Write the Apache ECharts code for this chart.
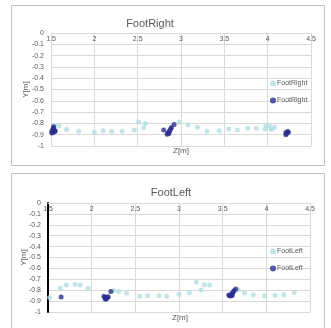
<!DOCTYPE html>
<html>
<head>
<meta charset="utf-8">
<script src="https://cdn.jsdelivr.net/npm/echarts@6/dist/echarts.min.js"></script>
<style>
  html, body { margin: 0; padding: 0; background: #fff; }
  #chart { width: 331px; height: 328px; }
</style>
</head>
<body>
<div id="chart"></div>
<script>
// Z[m], Y[m] pairs
const rightLight = [
  [1.54, -0.817], [1.59, -0.823], [1.68, -0.853], [1.82, -0.870], [2.00, -0.879],
  [2.10, -0.864], [2.20, -0.870], [2.32, -0.870], [2.46, -0.858], [2.51, -0.788],
  [2.57, -0.838], [2.59, -0.800], [2.98, -0.788], [3.08, -0.814], [3.19, -0.835],
  [3.30, -0.870], [3.44, -0.864], [3.55, -0.850], [3.65, -0.858], [3.77, -0.844],
  [3.87, -0.844], [3.97, -0.850], [3.98, -0.820], [4.02, -0.823], [4.04, -0.853],
  [4.08, -0.835], [4.05, -0.845]
];
const rightDark = [
  [1.53, -0.840], [1.52, -0.855], [1.51, -0.870], [1.51, -0.885], [1.54, -0.862],
  [1.54, -0.874], [1.53, -0.830], [1.52, -0.880], [1.55, -0.868],
  [2.80, -0.858], [2.84, -0.897], [2.85, -0.885], [2.86, -0.876], [2.87, -0.864],
  [2.88, -0.850], [2.89, -0.836], [2.92, -0.810], [2.86, -0.890],
  [4.21, -0.880], [4.22, -0.890], [4.23, -0.872], [4.21, -0.900], [4.24, -0.878]
];
const leftLight = [
  [1.52, -0.868], [1.64, -0.783], [1.71, -0.752], [1.81, -0.746], [1.87, -0.752],
  [1.96, -0.783], [2.25, -0.804], [2.31, -0.813], [2.40, -0.829], [2.55, -0.856],
  [2.64, -0.850], [2.77, -0.850], [2.86, -0.856], [3.00, -0.838], [3.12, -0.823],
  [3.20, -0.728], [3.25, -0.798], [3.29, -0.749], [3.35, -0.752], [3.68, -0.798],
  [3.75, -0.826], [3.85, -0.841], [3.98, -0.850], [4.10, -0.847], [4.20, -0.841],
  [4.32, -0.823]
];
const leftDark = [
  [1.65, -0.862],
  [2.14, -0.856], [2.15, -0.868], [2.16, -0.878], [2.18, -0.872], [2.16, -0.884],
  [2.19, -0.859], [2.17, -0.865], [2.22, -0.813],
  [3.57, -0.844], [3.58, -0.850], [3.60, -0.841], [3.61, -0.829], [3.62, -0.817],
  [3.63, -0.804], [3.65, -0.789], [3.59, -0.853], [3.61, -0.848]
];
const zTicks = { min: 1.5, max: 4.5, interval: 0.5 };
const yTicks = { min: -1, max: 0, interval: 0.1 };

const lightColor = "#b4dfe4";
const darkColor = "#2b2e8c";
const textColor = "#595959";
const gridColor = "#d9d9d9";
const font = "Liberation Sans";

function xAxisFor(gridIndex) {
  return {
    gridIndex, type: "value", position: "top",
    min: zTicks.min, max: zTicks.max, interval: zTicks.interval,
    axisLine: { show: true, onZero: false, lineStyle: { color: gridColor } },
    axisTick: { show: false },
    axisLabel: { inside: true, color: textColor, fontSize: 7, fontFamily: font, margin: 3 },
    splitLine: { show: true, lineStyle: { color: gridColor } },
  };
}

function yAxisFor(gridIndex, axisColor, axisWidth, gap) {
  return {
    gridIndex, type: "value",
    min: yTicks.min, max: yTicks.max, interval: yTicks.interval,
    name: "Y[m]", nameLocation: "middle", nameGap: gap, nameRotate: 90,
    nameMoveOverlap: false,
    nameTextStyle: { color: textColor, fontSize: 8, fontFamily: font },
    axisLine: { show: true, onZero: false, lineStyle: { color: axisColor, width: axisWidth } },
    axisTick: { show: false },
    axisLabel: { color: textColor, fontSize: 7, fontFamily: font, margin: 7 },
    splitLine: { show: true, lineStyle: { color: gridColor } },
  };
}

function scatter(name, data, color, idx) {
  return {
    name, type: "scatter", data, xAxisIndex: idx, yAxisIndex: idx,
    symbol: "circle", symbolSize: 5, itemStyle: { color },
  };
}

const legendBase = {
  orient: "vertical", icon: "circle", itemWidth: 6, itemHeight: 6, itemGap: 10,
  textStyle: { color: textColor, fontSize: 7, fontFamily: font, padding: [0, 0, 0, -4] },
  formatter: (n) => n.replace(/ .*$/, ""),
};

const chart = echarts.init(document.getElementById("chart"));
chart.setOption({
  animation: false,
  backgroundColor: "#fff",
  title: [
    { text: "FootRight", left: 145, top: 13, textAlign: "center",
      textStyle: { color: textColor, fontSize: 11, fontWeight: "normal", fontFamily: font } },
    { text: "FootLeft", left: 166, top: 182, textAlign: "center",
      textStyle: { color: textColor, fontSize: 11, fontWeight: "normal", fontFamily: font } },
  ],
  graphic: [
    { type: "rect", shape: { x: 11.5, y: 5.5, width: 313, height: 160 },
      style: { fill: "none", stroke: "#bfbfbf", lineWidth: 1 }, z: -1 },
    { type: "rect", shape: { x: 11.5, y: 173.5, width: 313, height: 170 },
      style: { fill: "none", stroke: "#bfbfbf", lineWidth: 1 }, z: -1 },
    { type: "text", left: 173, top: 147,
      style: { text: "Z[m]", fill: textColor, fontSize: 8, fontFamily: font } },
    { type: "text", left: 172, top: 314,
      style: { text: "Z[m]", fill: textColor, fontSize: 8, fontFamily: font } },
  ],
  grid: [
    { left: 51, top: 33, width: 260, height: 113 },
    { left: 48, top: 203, width: 262, height: 109 },
  ],
  xAxis: [xAxisFor(0), xAxisFor(1)],
  yAxis: [yAxisFor(0, gridColor, 1, 21), yAxisFor(1, "#000", 2, 20)],
  legend: [
    Object.assign({}, legendBase, { left: 265, top: 75, data: ["FootRight a", "FootRight b"] }),
    Object.assign({}, legendBase, { left: 265, top: 243, data: ["FootLeft a", "FootLeft b"] }),
  ],
  series: [
    scatter("FootRight a", rightLight, lightColor, 0),
    scatter("FootRight b", rightDark, darkColor, 0),
    scatter("FootLeft a", leftLight, lightColor, 1),
    scatter("FootLeft b", leftDark, darkColor, 1),
  ],
});
</script>
</body>
</html>
